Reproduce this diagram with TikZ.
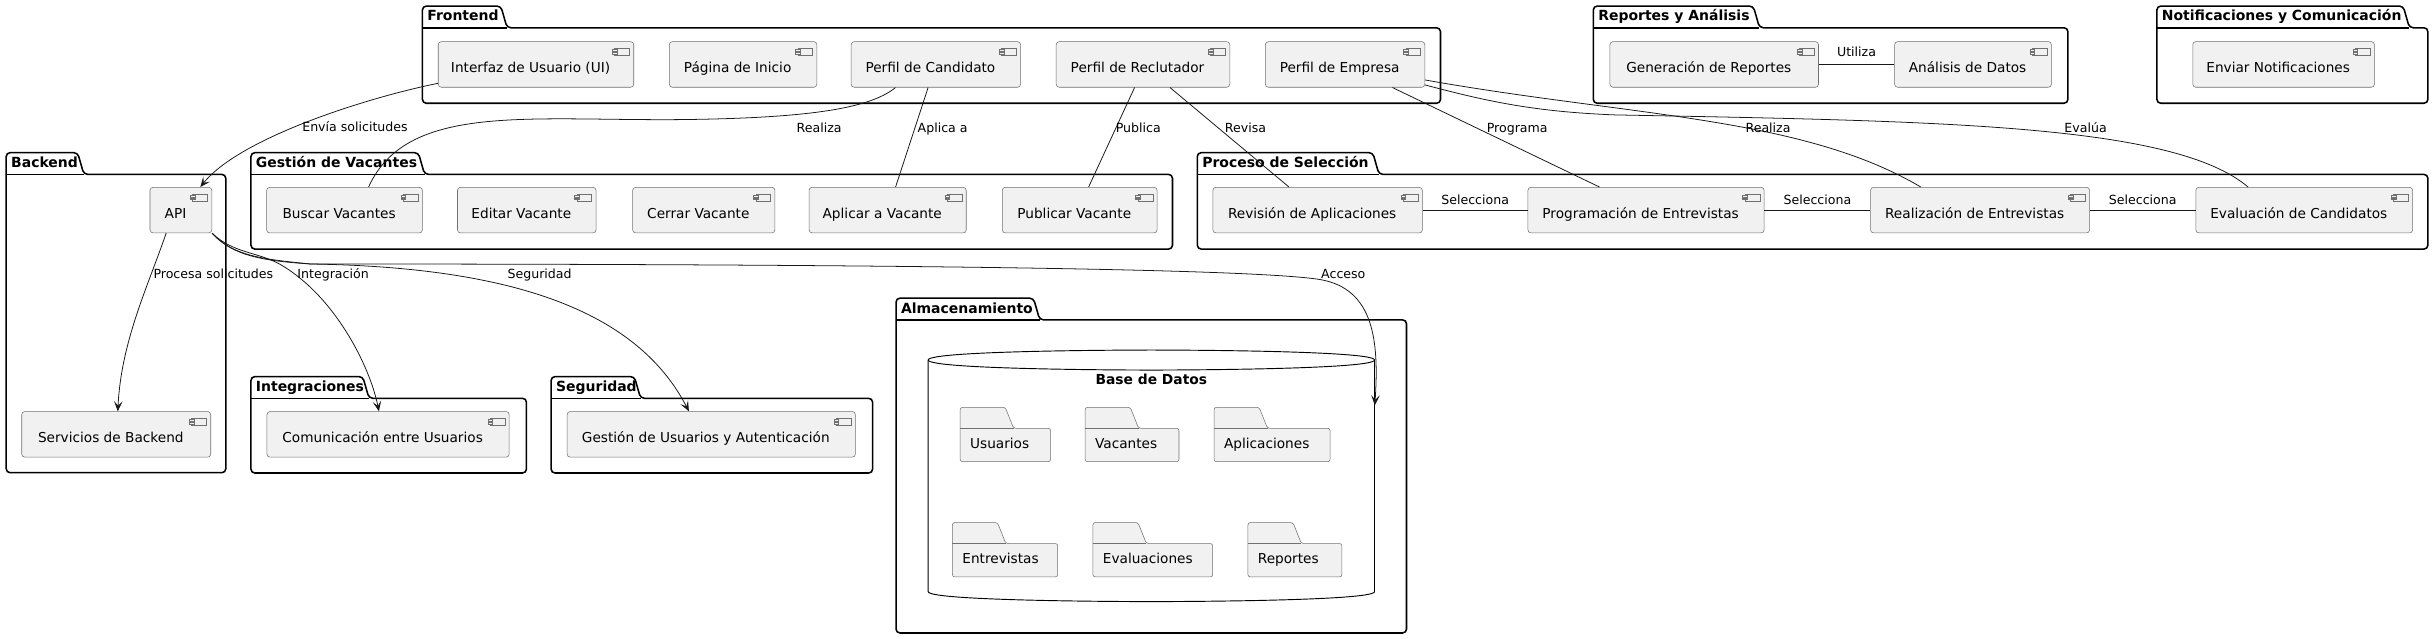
\documentclass[tikz,border=0pt]{standalone}
\usepackage{fontspec}
\setmainfont{DejaVu Sans}
\usetikzlibrary{arrows.meta}
\definecolor{cfill}{HTML}{F1F1F1}
\definecolor{cline}{HTML}{181818}
\definecolor{bline}{HTML}{707070}
\tikzset{
  comp/.style={draw=bline, line width=0.35pt, fill=cfill, rounded corners=2pt, inner sep=0pt,
    minimum height=29.4pt, font=\fontsize{8.8}{10}\selectfont, text height=11pt, text depth=0pt,
    execute at begin node={\hspace*{-7pt}},
    path picture={
      \draw[bline, sharp corners, line width=0.3pt, fill=cfill]
        ([xshift=-12.3pt,yshift=-4.3pt]path picture bounding box.north east) rectangle
        ([xshift=-2.8pt,yshift=-8.8pt]path picture bounding box.north east);
      \draw[bline, sharp corners, line width=0.3pt, fill=cfill]
        ([xshift=-13.8pt,yshift=-5.2pt]path picture bounding box.north east) rectangle
        ([xshift=-10.8pt,yshift=-6.3pt]path picture bounding box.north east);
      \draw[bline, sharp corners, line width=0.3pt, fill=cfill]
        ([xshift=-13.8pt,yshift=-6.9pt]path picture bounding box.north east) rectangle
        ([xshift=-10.8pt,yshift=-8pt]path picture bounding box.north east);
    }},
  pkgline/.style={draw=black, line width=1pt, fill=white, rounded corners=2.5pt},
  pkgtitle/.style={font=\bfseries\fontsize{9}{10}\selectfont, inner sep=0pt, anchor=base west},
  lbl/.style={font=\fontsize{8.1}{9}\selectfont, inner sep=0pt, anchor=base},
  conn/.style={draw=cline, line width=0.5pt},
  arr/.style={conn, -{Stealth[length=6.5pt,width=5.5pt,inset=3pt]}},
  fold/.style={draw=bline, line width=0.35pt, fill=cfill, rounded corners=1.5pt},
  foldtext/.style={font=\fontsize{8.8}{10}\selectfont, inner sep=0pt, anchor=base west},
  dbline/.style={draw=black, line width=0.6pt, fill=white},
}
\newcommand{\mycomp}[6]{\node[comp, minimum width={#4-#2}] (#1) at ({(#2+#4)/2},{(#3+#5)/2}) {#6};}
\newcommand{\mypkg}[7]{%
  \draw[pkgline] ({#2},{#3+14}) -- ({#2},{#3}) -- ({#6},{#3}) -- ({#6+4},{#3+14}) -- ({#4},{#3+14}) -- ({#4},{#5}) -- ({#2},{#5}) -- cycle;
  \draw[pkgline, fill=none] ({#2},{#3+14}) -- ({#6+4},{#3+14});
  \node[pkgtitle] (#1) at ({#2+3},{#3+9.6}) {#7};}
\newcommand{\myfold}[5]{%
  \draw[fold] ({#2},{#4+13.5}) -- ({#2},{#4}) -- ({#2+29},{#4}) -- ({#2+34.4},{#4+13.5}) -- ({#3},{#4+13.5}) -- ({#3},{#4+35}) -- ({#2},{#4+35}) -- cycle;
  \draw[fold, fill=none] ({#2},{#4+13.5}) -- ({#2+34.4},{#4+13.5});
  \node[foldtext] (#1) at ({#2+6.2},{#4+26.2}) {#5};}
\begin{document}
\begin{tikzpicture}[x=1pt,y=-1pt]
\fill[white] (0,0) rectangle (1568,411);
\useasboundingbox (0,0) rectangle (1568,411);
% packages
\mypkg{pFront}{272}{3.9}{927.6}{66.5}{322.5}{Frontend}
\mypkg{pRep}{1026}{3.9}{1331.6}{66.5}{1129}{Reportes y Análisis}
\mypkg{pNot}{1388.9}{3.9}{1563.4}{66.5}{1547.5}{Notificaciones y Comunicación}
\mypkg{pBack}{4}{98.3}{145.4}{304.4}{50}{Backend}
\mypkg{pGest}{161.6}{98.3}{755}{160.4}{269.4}{Gestión de Vacantes}
\mypkg{pProc}{771}{98.3}{1563.4}{160.4}{884}{Proceso de Selección}
\mypkg{pInt}{161.6}{242.5}{339}{304.6}{233.6}{Integraciones}
\mypkg{pSeg}{354.9}{242.5}{561.9}{304.6}{408.5}{Seguridad}
\mypkg{pAlm}{577}{192}{905.7}{407.6}{665.5}{Almacenamiento}
% database cylinder
\draw[dbline] (597.7,231.8) .. controls (597.7,225.4) and (741.4,225.4) .. (741.4,225.4)
  .. controls (741.4,225.4) and (885.1,225.4) .. (885.1,231.8) -- (885.1,381)
  .. controls (885.1,387.4) and (741.4,387.4) .. (741.4,387.4)
  .. controls (741.4,387.4) and (597.7,387.4) .. (597.7,381) -- cycle;
\draw[dbline, fill=none] (597.7,231.8) .. controls (597.7,238.3) and (741.4,238.3) .. (741.4,238.3)
  .. controls (741.4,238.3) and (885.1,238.3) .. (885.1,231.8);
\node[font=\bfseries\fontsize{8.9}{10}\selectfont, inner sep=0pt, anchor=base] (dbT) at (741.4,247.9) {Base de Datos};
\coordinate (dbIn) at (885.3,261);
\myfold{fUsu}{618.3}{676.5}{262.3}{Usuarios}
\myfold{fVac}{698.8}{759.2}{262.3}{Vacantes}
\myfold{fApl}{781.8}{856.5}{262.3}{Aplicaciones}
\myfold{fEnt}{613.3}{681.1}{336.5}{Entrevistas}
\myfold{fEva}{703.8}{780.9}{336.5}{Evaluaciones}
\myfold{fRep}{803.6}{864.1}{336.5}{Reportes}
% components row 1
\mycomp{ui}{282.2}{26.8}{408.1}{56.2}{Interfaz de Usuario (UI)}
\mycomp{home}{431}{26.8}{526}{56.2}{Página de Inicio}
\mycomp{cand}{548.1}{26.8}{657.2}{56.2}{Perfil de Candidato}
\mycomp{recl}{680.1}{26.8}{791.9}{56.2}{Perfil de Reclutador}
\mycomp{emp}{814.8}{26.8}{917.5}{56.2}{Perfil de Empresa}
\mycomp{genrep}{1036.7}{26.8}{1171}{56.2}{Generación de Reportes}
\mycomp{anal}{1220}{26.8}{1321}{56.2}{Análisis de Datos}
\mycomp{notif}{1412}{26.8}{1529}{56.2}{Enviar Notificaciones}
% row 2
\mycomp{api}{96.6}{120.6}{136.4}{150}{API}
\mycomp{buscar}{171.7}{120.6}{272}{150}{Buscar Vacantes}
\mycomp{editar}{294.6}{120.6}{383.8}{150}{Editar Vacante}
\mycomp{cerrar}{407.4}{120.6}{499}{150}{Cerrar Vacante}
\mycomp{aplicar}{521}{120.6}{622.2}{150}{Aplicar a Vacante}
\mycomp{publicar}{645.4}{120.6}{745.1}{150}{Publicar Vacante}
\mycomp{revision}{781}{120.6}{915.9}{150}{Revisión de Aplicaciones}
\mycomp{prog}{983.9}{120.6}{1136}{150}{Programación de Entrevistas}
\mycomp{real}{1204.5}{120.6}{1345.6}{150}{Realización de Entrevistas}
\mycomp{eval}{1414}{120.6}{1553.6}{150}{Evaluación de Candidatos}
% row 3
\mycomp{svc}{14}{265}{135.7}{294.4}{Servicios de Backend}
\mycomp{comu}{171.9}{265}{327.9}{294.4}{Comunicación entre Usuarios}
\mycomp{auth}{365.2}{265}{550.8}{294.4}{Gestión de Usuarios y Autenticación}
% connectors
\draw[arr] ([yshift=2.7pt]ui.south west) .. controls (240,62) and (155,88) .. ([xshift=12.5pt]api.north);
\draw[conn] ([xshift=-26pt]cand.south) .. controls (560,70) and (520,76) .. (440,77)
  .. controls (340,78) and (262,66) .. ([xshift=15.5pt]buscar.north);
\draw[conn] ([xshift=-5pt]cand.south) -- ([xshift=5.1pt]aplicar.north);
\draw[conn] ([xshift=-5.4pt]recl.south) -- ([xshift=5.75pt]publicar.north);
\draw[conn] ([xshift=17.4pt]recl.south) -- ([xshift=-18.45pt]revision.north);
\draw[conn] ([xshift=30.5pt]emp.south) -- ([xshift=-30pt]prog.north);
\draw[conn] ([yshift=-10pt]emp.east) .. controls (1050,75) and (1160,75) .. ([xshift=-38.2pt]real.north);
\draw[conn] ([yshift=-13.2pt]emp.east) .. controls (960,66) and (990,72) .. (1040,74)
  .. controls (1250,78) and (1400,80) .. ([xshift=-36.2pt]eval.north);
\draw[conn] (revision.east) -- (prog.west);
\draw[conn] (prog.east) -- (real.west);
\draw[conn] (real.east) -- (eval.west);
\draw[conn] (genrep.east) -- (anal.west);
\draw[arr] ([xshift=-9.5pt]api.south) .. controls (95,185) and (78,220) .. ([xshift=1pt]svc.north);
\draw[arr] (api.south east) .. controls (150,163) and (165,162) .. (180,170)
  .. controls (215,190) and (238,235) .. ([xshift=-5.9pt]comu.north);
\draw[arr] (api.south east) .. controls (150,165) and (170,167) .. (200,170)
  .. controls (330,172) and (410,200) .. ([xshift=-14.4pt]auth.north);
\draw[arr] (api.south east) .. controls (150,165) and (170,168) .. (200,170)
  .. controls (500,170) and (800,172) .. (850,180)
  .. controls (885,186) and (888,220) .. (dbIn);
% labels
\node[lbl] (lEnv) at (228.6,84.8) {Envía solicitudes};
\node[lbl] (lRea1) at (527.5,85.4) {Realiza};
\node[lbl] (lApl) at (607,85.4) {Aplica a};
\node[lbl] (lPub) at (733,85.4) {Publica};
\node[lbl] (lRev) at (802,85.4) {Revisa};
\node[lbl] (lProg) at (977,85.4) {Programa};
\node[lbl] (lRea2) at (1138.5,85.4) {Realiza};
\node[lbl] (lEva) at (1343,85.4) {Evalúa};
\node[lbl] (lSel1) at (949.9,131.4) {Selecciona};
\node[lbl] (lSel2) at (1170.3,131.4) {Selecciona};
\node[lbl] (lSel3) at (1379.8,131.4) {Selecciona};
\node[lbl] (lUti) at (1195.5,36.5) {Utiliza};
\node[lbl] (lProc) at (137.4,179.2) {Procesa solicitudes};
\node[lbl] (lInt) at (214.5,179.2) {Integración};
\node[lbl] (lSeg) at (347.5,179.2) {Seguridad};
\node[lbl] (lAcc) at (865,179.4) {Acceso};
\end{tikzpicture}
\end{document}
